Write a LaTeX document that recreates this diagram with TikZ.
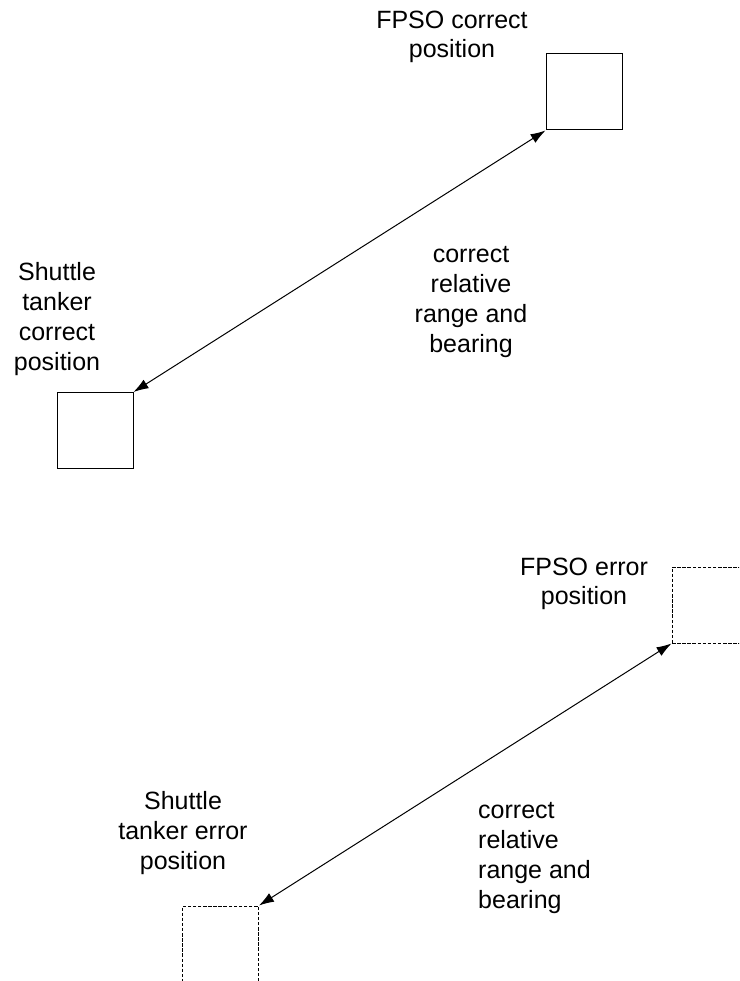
\documentclass[tikz,border=0pt]{standalone}
\usepackage{fontspec}
\setmainfont{Liberation Sans}
\usetikzlibrary{arrows.meta}

\begin{document}
\begin{tikzpicture}[x=1pt,y=-1pt]
	\tikzset{every node/.style={font=\fontsize{25}{29.7}\selectfont,inner sep=0pt}}
	\tikzset{vessel/.style={draw,line width=1pt,minimum size=76pt}}
	\tikzset{ghost/.style={vessel,dash pattern=on 3.5pt off 1.6pt}}
	\tikzset{rangeline/.style={{Latex[length=15pt,width=10pt]}-{Latex[length=15pt,width=10pt]},line width=1pt}}
	\useasboundingbox (0,0) rectangle (739,981);
	\clip (0,0) rectangle (739,981);
	% correct positions
	\node[vessel] (fpso) at (584,92) {};
	\node[vessel] (shuttle) at (95,430.5) {};
	\node[align=center] (fpsolabel) at (452,37) {FPSO correct\\position};
	\node[align=center] (shuttlelabel) at (57,319) {Shuttle\\tanker\\correct\\position};
	\node[align=center] (rangelabel) at (471,302) {correct\\relative\\range and\\bearing};
	\draw[rangeline] (shuttle.north east) -- (fpso.south west);
	% error positions
	\node[ghost] (fpsoerror) at (710,605) {};
	\node[ghost] (shuttleerror) at (220.5,944) {};
	\node[align=center] (fpsoerrorlabel) at (584,584) {FPSO error\\position};
	\node[align=center] (shuttleerrorlabel) at (183,833) {Shuttle\\tanker error\\position};
	\node[align=left,anchor=west] (rangeerrorlabel) at (478,858) {correct\\relative\\range and\\bearing};
	\draw[rangeline] (shuttleerror.north east) -- (fpsoerror.south west);
\end{tikzpicture}
\end{document}
